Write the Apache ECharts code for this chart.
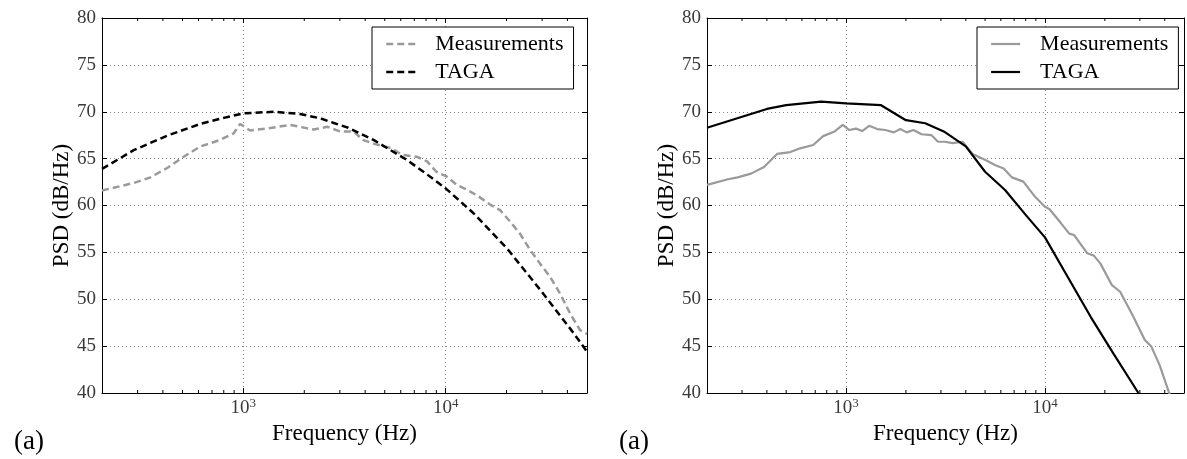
<!DOCTYPE html>
<html>
<head>
<meta charset="utf-8">
<script src="https://cdn.jsdelivr.net/npm/echarts@6/dist/echarts.min.js"></script>
<style>
  html, body { margin: 0; padding: 0; background: #fff; }
  #chart { width: 1187px; height: 459px; }
</style>
</head>
<body>
<div id="chart"></div>
<script>
// ---- data: PSD spectra, left panel (dashed) ----
const leftMeasFreq = [200, 287, 347, 420, 507, 613, 769, 896, 963, 1080, 1300, 1700, 2220, 2600, 3000, 3500, 3900, 4400, 5400, 6100, 7200, 8100, 9000, 10100, 11350, 12700, 14250, 16600, 18600, 20800, 23300, 26100, 29300, 32800, 36800, 41200, 46200, 50000];
const leftMeasPsd  = [61.6, 62.4, 63.0, 64.0, 65.2, 66.3, 67.0, 67.7, 68.7, 68.0, 68.2, 68.6, 68.1, 68.4, 67.9, 67.9, 67.0, 66.6, 66.1, 65.4, 65.2, 64.7, 63.6, 63.1, 62.2, 61.7, 61.1, 60.1, 59.5, 58.3, 57.0, 55.3, 53.8, 52.4, 50.6, 48.5, 46.7, 46.3];
const leftTagaFreq = [200, 287, 420, 613, 800, 1000, 1413, 1906, 2400, 2800, 3300, 4400, 6440, 8000, 10000, 13750, 20100, 29400, 43000, 50000];
const leftTagaPsd  = [63.9, 65.9, 67.45, 68.7, 69.35, 69.83, 70.0, 69.76, 69.3, 68.8, 68.3, 67.0, 64.85, 63.4, 61.83, 59.17, 55.43, 50.99, 46.37, 44.4];

// ---- data: PSD spectra, right panel (solid) ----
const rightMeasFreq = [200, 255, 285, 333, 387, 450, 525, 588, 684, 767, 877, 963, 1039, 1121, 1210, 1306, 1435, 1578, 1737, 1873, 2019, 2181, 2398, 2690, 2900, 3126, 3443, 3853, 4325, 5023, 5636, 6200, 6820, 7790, 8900, 9960, 10550, 12050, 13250, 14020, 16330, 17620, 19010, 21720, 23880, 27790, 31760, 34260, 37670, 41880, 43500];
const rightMeasPsd  = [62.2, 62.8, 63.0, 63.4, 64.1, 65.5, 65.7, 66.1, 66.45, 67.4, 67.9, 68.6, 68.05, 68.2, 67.95, 68.5, 68.15, 68.05, 67.8, 68.15, 67.8, 68.05, 67.6, 67.5, 66.8, 66.8, 66.65, 66.8, 65.5, 64.85, 64.3, 63.95, 63.0, 62.55, 60.95, 59.9, 59.6, 58.1, 57.0, 56.85, 54.9, 54.65, 53.8, 51.5, 50.8, 48.15, 45.65, 44.95, 43.0, 40.15, 39.2];
const rightTagaFreq = [200, 400, 500, 750, 1000, 1500, 2000, 2500, 3100, 4000, 5000, 6300, 8000, 10000, 13000, 17000, 22100, 29500];
const rightTagaPsd  = [68.3, 70.3, 70.7, 71.07, 70.9, 70.7, 69.1, 68.77, 67.9, 66.3, 63.6, 61.65, 59.0, 56.6, 52.4, 48.1, 44.2, 40.0];

// ---- axes and labels ----
const freqRange = [200, 50000];
const psdRange = [40, 80];
const psdStep = 5;
const decadeExponents = { 1000: '3', 10000: '4' };
const seriesNames = ['Measurements', 'TAGA'];
const xTitle = 'Frequency (Hz)';
const yTitle = 'PSD (dB/Hz)';
const panelTag = '(a)';

// minor log ticks (2..9 x 10^k) inside the frequency range
const minorFreqs = [];
for (let e = 2; e <= 4; e++) {
  for (let m = 2; m <= 9; m++) {
    const f = m * Math.pow(10, e);
    if (f > freqRange[0] && f < freqRange[1]) minorFreqs.push([f, psdRange[0]]);
  }
}

const zip = (xs, ys) => xs.map((x, i) => [x, ys[i]]);

const FONT = 'Liberation Serif';
const GREY = '#9a9a9a';
const INK = '#000';
const LABEL = '#3a3a3a';
const GRID_W = 485, GRID_H = 375, GRID_TOP = 18;
const panels = [{ left: 102, tagLeft: 9 }, { left: 707, tagLeft: 614 }];

const xAxes = [], yAxes = [], grids = [], titles = [], legends = [];

panels.forEach((p, gi) => {
  grids.push({ left: p.left, top: GRID_TOP, width: GRID_W, height: GRID_H, containLabel: false });
  // bottom frequency axis with labels
  xAxes.push({
    type: 'log', logBase: 10, gridIndex: gi, position: 'bottom',
    min: freqRange[0], max: freqRange[1],
    name: xTitle, nameLocation: 'middle', nameGap: 27,
    nameTextStyle: { fontFamily: FONT, fontSize: 23, color: INK },
    axisLine: { show: true, lineStyle: { color: INK, width: 1 } },
    axisTick: { show: true, inside: true, length: 5, lineStyle: { color: INK } },
    axisLabel: {
      show: true, margin: 4, showMinLabel: true, showMaxLabel: true,
      formatter: v => {
        const key = Math.round(v);
        return decadeExponents[key] ? '{b|10}{s|' + decadeExponents[key] + '}' : '';
      },
      rich: {
        b: { fontFamily: FONT, fontSize: 19, color: LABEL, lineHeight: 22 },
        s: { fontFamily: FONT, fontSize: 13, color: LABEL, verticalAlign: 'top', lineHeight: 13 }
      }
    },
    splitLine: { show: true, showMinLine: false, showMaxLine: false,
      lineStyle: { color: '#888', width: 1, type: [1, 3] } }
  });
  // top frame axis
  xAxes.push({
    type: 'log', logBase: 10, gridIndex: gi, position: 'top',
    min: freqRange[0], max: freqRange[1],
    axisLine: { show: true, lineStyle: { color: INK, width: 1 } },
    axisTick: { show: true, inside: true, length: 5, lineStyle: { color: INK } },
    axisLabel: { show: false }, splitLine: { show: false }
  });
  // left PSD axis with labels
  yAxes.push({
    type: 'value', gridIndex: gi, position: 'left',
    min: psdRange[0], max: psdRange[1], interval: psdStep,
    name: yTitle, nameLocation: 'middle', nameGap: 29, nameRotate: 90,
    nameTextStyle: { fontFamily: FONT, fontSize: 23, color: INK },
    axisLine: { show: true, lineStyle: { color: INK, width: 1 } },
    axisTick: { show: true, inside: true, length: 5, lineStyle: { color: INK } },
    axisLabel: { show: true, margin: 6, fontFamily: FONT, fontSize: 19, color: LABEL },
    splitLine: { show: true, showMinLine: false, showMaxLine: false,
      lineStyle: { color: '#888', width: 1, type: [1, 3] } }
  });
  // right frame axis
  yAxes.push({
    type: 'value', gridIndex: gi, position: 'right',
    min: psdRange[0], max: psdRange[1], interval: psdStep,
    axisLine: { show: true, lineStyle: { color: INK, width: 1 } },
    axisTick: { show: true, inside: true, length: 5, lineStyle: { color: INK } },
    axisLabel: { show: false }, splitLine: { show: false }
  });
  titles.push({
    text: panelTag, left: p.tagLeft, top: 423,
    textStyle: { fontFamily: FONT, fontSize: 27, fontWeight: 'normal', color: INK }
  });
});

// series names: the right panel uses its own keys so each legend picks its own line style
const rightKeys = seriesNames.map(n => n + ' ');

const legendBase = {
  orient: 'vertical', top: 27,
  itemWidth: 29, itemHeight: 14, itemGap: 6,
  padding: [6, 10, 6, 13],
  backgroundColor: '#fff', borderColor: INK, borderWidth: 1, borderRadius: 0,
  selectedMode: false,
  formatter: n => n.trim(),
  itemStyle: { color: 'rgba(0,0,0,0)', borderWidth: 0, opacity: 0 },
  textStyle: { fontFamily: FONT, fontSize: 22, color: INK, padding: [0, 0, 0, 15] }
};
legends.push(Object.assign({}, legendBase, { left: 372, data: seriesNames, lineStyle: { width: 2.5 } }));
legends.push(Object.assign({}, legendBase, { left: 977, data: rightKeys, lineStyle: { width: 2.2 } }));

const minorTickSeries = (xi, yi) => ({
  type: 'custom', xAxisIndex: xi, yAxisIndex: yi, silent: true, z: 5,
  data: minorFreqs,
  renderItem: (params, api) => {
    const f = api.value(0);
    const b = api.coord([f, psdRange[0]]);
    const t = api.coord([f, psdRange[1]]);
    return {
      type: 'group',
      children: [
        { type: 'line', shape: { x1: b[0], y1: b[1], x2: b[0], y2: b[1] - 3 }, style: { stroke: INK, lineWidth: 1 } },
        { type: 'line', shape: { x1: t[0], y1: t[1], x2: t[0], y2: t[1] + 3 }, style: { stroke: INK, lineWidth: 1 } }
      ]
    };
  }
});

const lineSeries = (name, xi, yi, data, color, width, dashed) => ({
  name, type: 'line', xAxisIndex: xi, yAxisIndex: yi,
  data, symbol: 'none', showSymbol: false, smooth: false, clip: true,
  lineStyle: { color, width, type: dashed ? [7, 4] : 'solid', cap: 'butt' },
  itemStyle: { color },
  emphasis: { disabled: true }, animation: false, z: 3
});

const option = {
  animation: false,
  backgroundColor: '#fff',
  grid: grids,
  xAxis: xAxes,
  yAxis: yAxes,
  title: titles,
  legend: legends,
  series: [
    lineSeries(seriesNames[0], 0, 0, zip(leftMeasFreq, leftMeasPsd), GREY, 2.5, true),
    lineSeries(seriesNames[1], 0, 0, zip(leftTagaFreq, leftTagaPsd), INK, 2.5, true),
    lineSeries(rightKeys[0], 2, 2, zip(rightMeasFreq, rightMeasPsd), GREY, 2.2, false),
    lineSeries(rightKeys[1], 2, 2, zip(rightTagaFreq, rightTagaPsd), INK, 2.2, false),
    minorTickSeries(0, 0),
    minorTickSeries(2, 2)
  ]
};

const chart = echarts.init(document.getElementById('chart'), null, { renderer: 'canvas' });
chart.setOption(option);
</script>
</body>
</html>
